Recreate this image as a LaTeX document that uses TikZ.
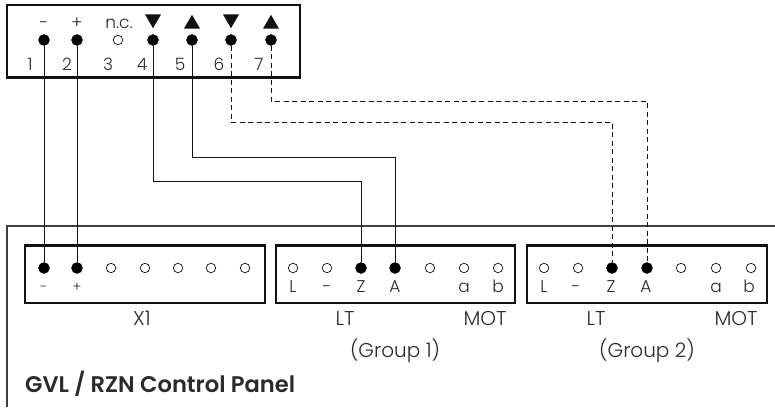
\documentclass[tikz,border=0pt]{standalone}
\usepackage{fontspec}
\setmainfont{Poppins}[UprightFont=* Light]
\newfontfamily\boldf{Poppins}[UprightFont=* SemiBold]
\usetikzlibrary{shapes.geometric}
\definecolor{ink}{HTML}{111111}
\definecolor{txt}{HTML}{2A2A2A}
\tikzset{
  x=1pt,y=-1pt,
  frameb/.style={draw=ink,line width=2.6pt,fill=white},
  panelb/.style={draw=ink!80,line width=1.8pt},
  wire/.style={draw=ink,line width=0.9pt},
  dwire/.style={draw=ink,line width=0.9pt,dash pattern=on 5pt off 3.5pt},
  on/.style={circle,fill=black,draw=black,inner sep=0pt,minimum size=11pt},
  off/.style={circle,fill=white,draw=ink,line width=0.7pt,inner sep=0pt,minimum size=9.5pt},
  lab/.style={inner sep=0pt,anchor=base,text=txt,font=\fontsize{20}{22}\selectfont},
  sm/.style={inner sep=0pt,anchor=base,text=txt,font=\fontsize{17}{18}\selectfont},
  tiny/.style={inner sep=0pt,anchor=base,text=txt,font=\fontsize{13.5}{14}\selectfont},
  up/.style={regular polygon,regular polygon sides=3,fill=ink,inner sep=0pt,minimum size=18.5pt},
  down/.style={regular polygon,regular polygon sides=3,shape border rotate=180,fill=ink,inner sep=0pt,minimum size=18.5pt},
}
\begin{document}
\begin{tikzpicture}
\useasboundingbox (0,0) rectangle (775,407);
% panel
\draw[panelb] (7,407) -- (7,226) -- (775,226);
% boxes
\draw[frameb] (7,5) rectangle (300,77.5);
\draw[frameb] (25,245.5) rectangle (265,303);
\draw[frameb] (276,245.5) rectangle (515,303);
\draw[frameb] (527,245.5) rectangle (767,303);
% top terminals
\foreach \n/\x in {a/44,b/77,d/153,e/192,f/231,g/271}{\node[on] (t\n) at (\x,40) {};}
\node[off] (tc) at (118,40) {};
\node[sm] (tl1) at (44,28) {-};
\node[sm] (tl2) at (77,28) {+};
\node[sm] (tl3) at (119,28) {n.c.};
\node[down] (tr1) at (153,19) {};
\node[up] (tr2) at (192,24) {};
\node[down] (tr3) at (231,19) {};
\node[up] (tr4) at (271,24) {};
\foreach \t/\x in {1/30,2/67,3/108,4/142,5/180,6/219,7/259}{\node[sm] (n\t) at (\x,70) {\t};}
% X1
\foreach \n/\x in {a/44,b/77}{\node[on] (x\n) at (\x,268) {};}
\foreach \x in {111,145,178,211,245}{\node[off] at (\x,268) {};}
\node[tiny] (xm) at (44,291) {-};
\node[tiny] (xp) at (77,291) {+};
\node[lab] (x1) at (142,325) {X1};
% G1
\foreach \x in {293,327,430,464,498}{\node[off] at (\x,268) {};}
\node[on] (gz) at (361,268) {};
\node[on] (ga) at (395,268) {};
\foreach \t/\x in {L/293,-/327,Z/361,A/395,a/464,b/498}{\node[sm] at (\x,292) {\t};}
\node[lab] (g1lt) at (345,325) {LT};
\node[lab] (g1m) at (485,325) {MOT};
\node[lab] (g1) at (395,357) {(Group 1)};
% G2
\foreach \x in {544,578,681,716,751}{\node[off] at (\x,268) {};}
\node[on] (hz) at (612,268) {};
\node[on] (ha) at (647,268) {};
\foreach \t/\x in {L/544,-/576,Z/611,A/646,a/716,b/749}{\node[sm] at (\x,292) {\t};}
\node[lab] (g2lt) at (596,325) {LT};
\node[lab] (g2m) at (736,325) {MOT};
\node[lab] (g2) at (647,357) {(Group 2)};
\node[anchor=base west,inner sep=0pt,text=txt,font=\boldf\fontsize{22.6}{24}\selectfont] (title) at (25,392) {GVL / RZN Control Panel};
% wires
\draw[wire] (ta) -- (xa);
\draw[wire] (tb) -- (xb);
\coordinate (c1) at (153,181);\coordinate (c2) at (361,181);
\coordinate (c3) at (192,157);\coordinate (c4) at (395,157);
\coordinate (c5) at (231,122);\coordinate (c6) at (612,122);
\coordinate (c7) at (271,101);\coordinate (c8) at (647,101);
\draw[wire] (td) -- (c1) -- (c2) -- (gz);
\draw[wire] (te) -- (c3) -- (c4) -- (ga);
\draw[dwire] (tf) -- (c5) -- (c6) -- (hz);
\draw[dwire] (tg) -- (c7) -- (c8) -- (ha);
\end{tikzpicture}
\end{document}
